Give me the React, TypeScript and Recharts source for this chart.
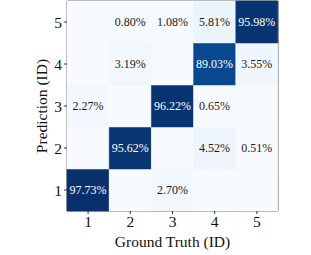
import { BarChart, Bar, XAxis, YAxis, Cell, LabelList, ReferenceArea, Label } from "recharts";

const groundTruth = ["1", "2", "3", "4", "5"];
const predictionTicks = ["1", "2", "3", "4", "5"];

// percentage per ground-truth column, one array per predicted class
const pred1 = [97.73, 0, 2.7, 0, 0];
const pred2 = [0, 95.62, 0, 4.52, 0.51];
const pred3 = [2.27, 0, 96.22, 0.65, 0];
const pred4 = [0, 3.19, 0, 89.03, 3.55];
const pred5 = [0, 0.8, 1.08, 5.81, 95.98];

const rows = [pred1, pred2, pred3, pred4, pred5];

const data = groundTruth.map((gt, i) => {
  const d: Record<string, string | number> = { gt };
  rows.forEach((r, k) => {
    d[`c${k + 1}`] = 1;
    d[`v${k + 1}`] = r[i];
  });
  return d;
});

const vmax = Math.max(...rows.flat());

const BLUES: [number, number, number][] = [
  [247, 251, 255],
  [222, 235, 247],
  [198, 219, 239],
  [158, 202, 225],
  [107, 174, 214],
  [66, 146, 198],
  [33, 113, 181],
  [8, 81, 156],
  [8, 48, 107],
];

function blues(v: number) {
  const t = Math.min(1, Math.max(0, v / vmax)) * (BLUES.length - 1);
  const i = Math.min(BLUES.length - 2, Math.floor(t));
  const f = t - i;
  const c = BLUES[i].map((a, j) => Math.round(a + (BLUES[i + 1][j] - a) * f));
  return `rgb(${c[0]},${c[1]},${c[2]})`;
}

const FONT = '"Liberation Serif", "Times New Roman", Times, serif';

function CellLabel(props: any) {
  const { x, y, width, height, value } = props;
  if (!value) return null;
  return (
    <text
      x={x + width / 2}
      y={y + height / 2}
      textAnchor="middle"
      dominantBaseline="central"
      style={{ fontFamily: FONT, fontSize: 12 }}
      fill={value > 50 ? "#ffffff" : "#1a1a1a"}
    >
      {value.toFixed(2)}%
    </text>
  );
}

export default function App() {
  return (
    <div style={{ position: "absolute", left: 0, top: 0, background: "#fff", fontFamily: FONT }}>
      <BarChart
        width={311}
        height={255}
        data={data}
        margin={{ top: 1, right: 33, bottom: 0, left: 0 }}
        barCategoryGap={0}
        barGap={0}
        style={{ fontFamily: FONT }}
      >
        <XAxis
          dataKey="gt"
          type="category"
          height={44}
          axisLine={false}
          tickSize={3}
          tickMargin={2}
          tickLine={{ stroke: "#333" }}
          tick={{ fill: "#111", fontSize: 15.5, style: { fontFamily: FONT } }}
          interval={0}
        >
          <Label
            value="Ground Truth (ID)"
            position="center"
            dy={8}
            style={{ fill: "#111", fontSize: 15.5, fontFamily: FONT }}
          />
        </XAxis>
        <YAxis
          type="number"
          domain={[0, 5]}
          ticks={[0.5, 1.5, 2.5, 3.5, 4.5]}
          tickFormatter={(v: number) => predictionTicks[Math.floor(v)]}
          width={67}
          axisLine={false}
          tickSize={3}
          tickMargin={2}
          tickLine={{ stroke: "#333" }}
          tick={{ fill: "#111", fontSize: 15.5, style: { fontFamily: FONT } }}
        >
          <Label
            value="Prediction (ID)"
            angle={-90}
            position="center"
            dx={8}
            style={{ fill: "#111", fontSize: 15.5, fontFamily: FONT, textAnchor: "middle" }}
          />
        </YAxis>
        {rows.map((r, k) => (
          <Bar key={k} dataKey={`c${k + 1}`} stackId="m" isAnimationActive={false}>
            {r.map((v, i) => (
              <Cell key={i} fill={blues(v)} stroke={blues(v)} strokeWidth={0.5} />
            ))}
            <LabelList dataKey={`v${k + 1}`} content={CellLabel} />
          </Bar>
        ))}
        <ReferenceArea y1={0} y2={5} fill="none" stroke="#555" strokeWidth={1} fillOpacity={0} />
      </BarChart>
    </div>
  );
}
